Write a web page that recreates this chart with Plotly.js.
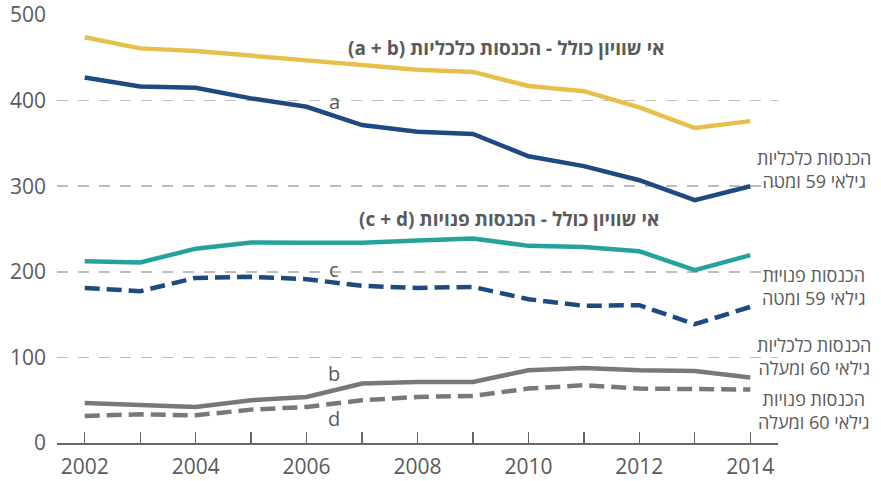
<!DOCTYPE html>
<html>
<head>
<meta charset="utf-8">
<script src="https://cdn.plot.ly/plotly-3.0.1.min.js"></script>
<style>html,body{margin:0;padding:0;background:#fff;}#chart{width:881px;height:481px;}</style>
</head>
<body>
<div id="chart"></div>
<script>
const years = [2002,2003,2004,2005,2006,2007,2008,2009,2010,2011,2012,2013,2014];
const totalEconomic = [474,461,458,452,447,441.5,436,433.5,417,411,392,368,376];          // a + b
const economicUnder60 = [427,416.6,415,402.6,392.8,371.4,363.6,361,335,323.5,307,283.7,300]; // a
const totalDisposable = [212.4,210.9,227,234.3,233.8,233.8,236.6,239,230.3,229,224,202,219.4]; // c + d
const disposableUnder60 = [181.2,177.3,192.9,194.1,191.4,183.6,181.2,182.4,168,160.2,161,138.8,159]; // c
const economic60plus = [46.8,44.1,42.1,49.9,53.8,69.4,71.3,71.3,85,87.7,85,84.2,76.5]; // b
const disposable60plus = [31.6,33.5,32.4,39,42.1,49.9,53.8,55,63.6,67.5,63.6,63.6,62.4]; // d

const xTickVals = years;
const xTickText = ['2002','','2004','','2006','','2008','','2010','','2012','','2014'];
const yTickVals = [0,100,200,300,400,500];

const titleEconomic = '(a + b) אי שוויון כולל - הכנסות כלכליות';
const titleDisposable = '(c + d) אי שוויון כולל - הכנסות פנויות';
const sideLabels = [
  'הכנסות כלכליות<br>גילאי 59 ומטה',
  'הכנסות פנויות<br>גילאי 59 ומטה',
  'הכנסות כלכליות<br>גילאי 60 ומעלה',
  'הכנסות פנויות<br>גילאי 60 ומעלה'
];
const letterLabels = ['a','c','b','d'];

const FONT = 'Open Sans, Noto Sans, sans-serif';
const TXT = '#5a5a5a';

function tr(y, color, dash) {
  return {x: years, y: y, type: 'scatter', mode: 'lines',
    line: {color: color, width: 4.5, dash: dash || 'solid'}, hoverinfo: 'skip', showlegend: false};
}

const data = [
  tr(totalEconomic, '#E6C04B'),
  tr(economicUnder60, '#1D4A80'),
  tr(totalDisposable, '#26A29C'),
  tr(disposableUnder60, '#1D4A80', '15px,7px'),
  tr(economic60plus, '#77787B'),
  tr(disposable60plus, '#77787B', '15px,7px')
];

const annotations = [
  {x: 2009.6, y: 462, xref: 'x', yref: 'y', text: titleEconomic, showarrow: false,
   font: {family: FONT, size: 19, color: TXT, weight: 'bold'}},
  {x: 2009.65, y: 262, xref: 'x', yref: 'y', text: titleDisposable, showarrow: false,
   font: {family: FONT, size: 19, color: TXT, weight: 'bold'}},
  {x: 2006.5, y: 399, text: letterLabels[0]},
  {x: 2006.5, y: 203, text: letterLabels[1]},
  {x: 2006.5, y: 81, text: letterLabels[2]},
  {x: 2006.5, y: 29, text: letterLabels[3]}
].map(a => a.font ? a : Object.assign(a, {xref: 'x', yref: 'y', showarrow: false,
   font: {family: FONT, size: 20, color: TXT}}));

const sideY = [320, 182.4, 100.5, 38.2];
sideLabels.forEach((t, i) => {
  annotations.push({x: 1.05, y: sideY[i], xref: 'paper', yref: 'y', text: t, showarrow: false,
    align: 'center', xanchor: 'center', yanchor: 'middle',
    font: {family: FONT, size: 18, color: TXT}});
});

const layout = {
  width: 881, height: 481,
  margin: {l: 57, r: 103, t: 15, b: 38},
  paper_bgcolor: '#fff', plot_bgcolor: '#fff',
  font: {family: FONT, color: TXT},
  xaxis: {range: [2001.5, 2014.5], tickvals: xTickVals, ticktext: xTickText,
    ticks: 'inside', ticklen: 11, tickwidth: 1.3, tickcolor: '#666',
    showline: true, linecolor: '#666', linewidth: 1.5, showgrid: false, zeroline: false,
    tickfont: {family: FONT, size: 21, color: TXT}, ticklabelstandoff: 4},
  yaxis: {range: [0, 500], tickvals: yTickVals, ticks: '', showline: false,
    showgrid: true, gridcolor: '#bdbdbd', gridwidth: 1.5, griddash: '11px,10px', zeroline: false,
    tickfont: {family: FONT, size: 21, color: TXT}, ticklabelstandoff: 10},
  annotations: annotations,
  showlegend: false
};

Plotly.newPlot('chart', data, layout, {displayModeBar: false, staticPlot: true});
</script>
</body>
</html>
